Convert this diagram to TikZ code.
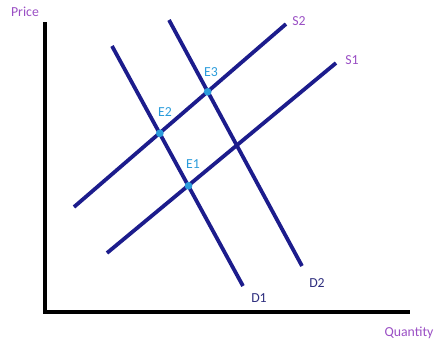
\documentclass[tikz,border=0pt]{standalone}
\usepackage{fontspec}
\setmainfont{Carlito}
\usepackage{tikz}
\usetikzlibrary{positioning}
\definecolor{curveNavy}{HTML}{1C1C8C}
\definecolor{axisLabel}{HTML}{9A4FC4}
\definecolor{eqBlue}{HTML}{2B9CDB}
\definecolor{demLabel}{HTML}{2E2E7E}
\begin{document}
\begin{tikzpicture}[x=0.025cm,y=-0.025cm,font=\fontsize{9.8}{11}\selectfont,
  curve/.style={curveNavy,line width=2.7pt},
  axis/.style={black,line width=2.8pt},
  eqpt/.style={circle,fill=eqBlue,inner sep=0pt,minimum size=5.5pt},
  eqlbl/.style={eqBlue},
  slbl/.style={axisLabel},
  dlbl/.style={demLabel}]
\useasboundingbox (0,0) rectangle (439,342);
% axes
\coordinate (top) at (45,22);
\coordinate (origin) at (45,312);
\coordinate (right) at (410,312);
\draw[axis] (top) -- (origin) -- (right);
\node[slbl] (price) at (25,12) {Price};
\node[slbl] (qty) at (409,333) {Quantity};
% supply and demand curves
\coordinate (d1a) at (112,46);  \coordinate (d1b) at (243,286);
\coordinate (d2a) at (169,20);  \coordinate (d2b) at (302,266);
\coordinate (s1a) at (107,253); \coordinate (s1b) at (336,63);
\coordinate (s2a) at (74,207);  \coordinate (s2b) at (286,24);
\draw[curve] (d1a) -- (d1b);
\draw[curve] (d2a) -- (d2b);
\draw[curve] (s1a) -- (s1b);
\draw[curve] (s2a) -- (s2b);
\node[dlbl] (d1) at (259,298) {D1};
\node[dlbl] (d2) at (317,283) {D2};
\node[slbl] (s1) at (352,60) {S1};
\node[slbl] (s2) at (299,21) {S2};
% equilibria
\node[eqpt] (e1) at (188.5,185.8) {};
\node[eqpt] (e2) at (159.8,133.3) {};
\node[eqpt] (e3) at (207.7,91.8) {};
\node[eqlbl] at (193,164) {E1};
\node[eqlbl] at (165,112) {E2};
\node[eqlbl] at (211,72) {E3};
\end{tikzpicture}
\end{document}
